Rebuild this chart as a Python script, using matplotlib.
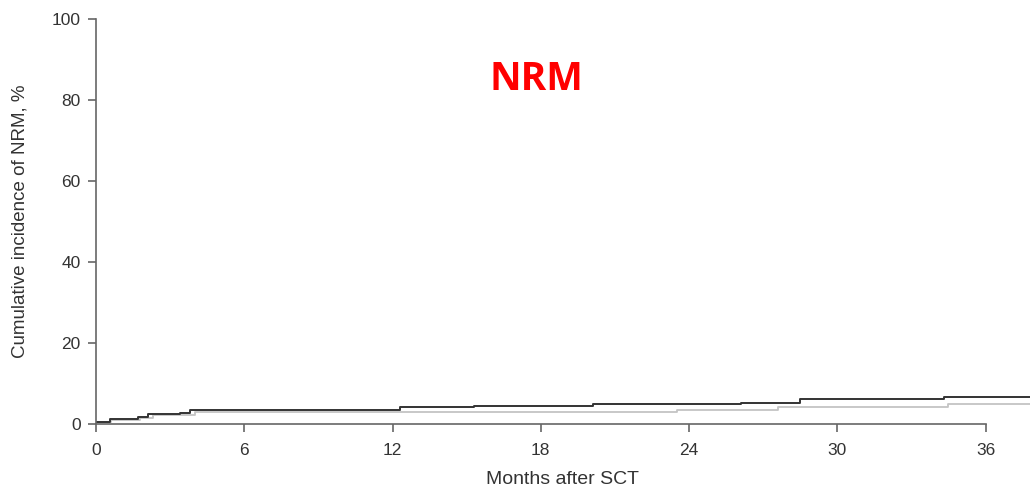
import matplotlib
matplotlib.use("Agg")
import matplotlib.pyplot as plt

plt.rcParams["font.family"] = ["Liberation Sans", "DejaVu Sans"]

# Data (months, cumulative incidence %)
dark_t = [0, 0.55, 1.7, 2.1, 3.4, 3.8, 12.3, 15.3, 20.1, 26.1, 28.5, 34.3, 37.8]
dark_y = [0.6, 1.2, 1.8, 2.4, 2.6, 3.5, 4.1, 4.5, 4.9, 5.3, 6.1, 6.6, 6.6]
light_t = [0, 0.6, 1.8, 2.3, 4.0, 12.3, 23.5, 27.6, 34.5, 37.8]
light_y = [0.5, 1.0, 1.6, 2.2, 2.9, 3.0, 3.5, 4.3, 4.9, 4.9]

xticks = [0, 6, 12, 18, 24, 30, 36]
yticks = [0, 20, 40, 60, 80, 100]

fig = plt.figure(figsize=(10.33, 4.91), dpi=100)
ax = fig.add_axes([96/1033, 67/491, (1030-96)/1033, (424-19)/491])

ax.step(light_t, light_y, where="post", color="#c4c4c4", lw=1.3)
ax.step(dark_t, dark_y, where="post", color="#333333", lw=1.4)

ax.set_xlim(0, 37.8)
ax.set_ylim(0, 100)
ax.set_xticks(xticks)
ax.set_yticks(yticks)
ax.spines["top"].set_visible(False)
ax.spines["right"].set_visible(False)
ax.spines["bottom"].set_bounds(0, 36)
for s in ("left", "bottom"):
    ax.spines[s].set_color("#666666")
    ax.spines[s].set_linewidth(1.2)
ax.tick_params(direction="out", length=6, width=1.2, color="#666666",
               labelsize=12.5, labelcolor="#333333")
ax.tick_params(axis="x", pad=8)
ax.tick_params(axis="y", pad=5)
ax.set_xlabel("Months after SCT", fontsize=14, color="#333333", labelpad=9)
ax.set_ylabel("Cumulative incidence of NRM, %", fontsize=13.5, color="#333333", labelpad=17)

fig.text(536/1033, 1 - 79/491, "NRM", color="#ff0000", fontsize=28,
         fontweight="bold", family="Open Sans", ha="center", va="center")

fig.savefig("out.png", dpi=100)
